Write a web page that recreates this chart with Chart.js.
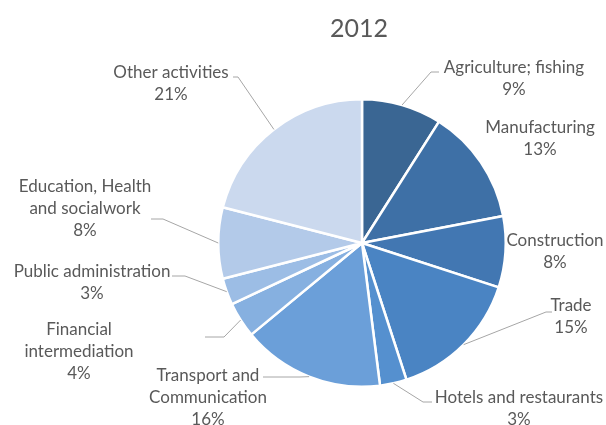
<!DOCTYPE html>
<html>
<head>
<meta charset="utf-8">
<script src="https://cdn.jsdelivr.net/npm/chart.js@4"></script>
<style>
    html, body { margin: 0; padding: 0; background: #ffffff; }
    #wrap { width: 606px; height: 425px; }
</style>
</head>
<body>
<div id="wrap"><canvas id="pieChart" width="606" height="425"></canvas></div>
<script>
// Chart data
const chartTitle = '2012';
const sectors = [
    'Agriculture; fishing', 'Manufacturing', 'Construction', 'Trade',
    'Hotels and restaurants', 'Transport and Communication', 'Financial intermediation',
    'Public administration', 'Education, Health and socialwork', 'Other activities'
];
const shares = [9, 13, 8, 15, 3, 16, 4, 3, 8, 21];
const sliceColors = [
    '#3a6693', '#3e70a6', '#4277b2', '#4a84c3', '#5590cf',
    '#6b9fd9', '#86b0e0', '#9cbde5', '#b3cae9', '#cbd9ee'
];

// Label text lines as shown in the picture
const labelLines = [
    ['Agriculture; fishing'], ['Manufacturing'], ['Construction'], ['Trade'],
    ['Hotels and restaurants'], ['Transport and', 'Communication'], ['Financial', 'intermediation'],
    ['Public administration'], ['Education, Health', 'and socialwork'], ['Other activities']
];

// Label layout: text centre x, first line centre y, leader elbow and end (null = no leader)
const labelLayout = [
    { x: 514, y: 68,  elbow: [431, 72],  end: [439, 72] },
    { x: 540, y: 128, elbow: null, end: null },
    { x: 555, y: 241, elbow: null, end: null },
    { x: 571, y: 306, elbow: [546, 312], end: [552, 312] },
    { x: 519, y: 398, elbow: [423, 402], end: [432, 402] },
    { x: 208, y: 376, elbow: [300, 377], end: [263, 377] },
    { x: 79,  y: 330, elbow: [224, 337], end: [205, 337] },
    { x: 92,  y: 272, elbow: [185, 276], end: [172, 276] },
    { x: 85,  y: 187, elbow: [163, 219], end: [151, 219] },
    { x: 171, y: 73,  elbow: [238, 77],  end: [233, 77] }
];

const textColor = '#595959';
const leaderColor = '#a6a6a6';
const labelFont = '17px Lato, "Liberation Sans", sans-serif';

// Draws the title, outside labels and leader lines
const outsideLabels = {
    id: 'outsideLabels',
    afterDatasetsDraw(chart) {
        const ctx = chart.ctx;
        const meta = chart.getDatasetMeta(0);
        const total = shares.reduce((a, b) => a + b, 0);

        ctx.save();
        ctx.fillStyle = textColor;
        ctx.textAlign = 'center';
        ctx.textBaseline = 'middle';
        ctx.font = '25px Lato, "Liberation Sans", sans-serif';
        ctx.fillText(chartTitle, 359, 29);

        meta.data.forEach((arc, i) => {
            const layout = labelLayout[i];
            const p = arc.getProps(['x', 'y', 'startAngle', 'endAngle', 'outerRadius'], true);

            if (layout.elbow) {
                const mid = (p.startAngle + p.endAngle) / 2;
                const sx = p.x + Math.cos(mid) * p.outerRadius;
                const sy = p.y + Math.sin(mid) * p.outerRadius;
                ctx.strokeStyle = leaderColor;
                ctx.lineWidth = 1;
                ctx.beginPath();
                ctx.moveTo(sx, sy);
                ctx.lineTo(layout.elbow[0], layout.elbow[1]);
                ctx.lineTo(layout.end[0], layout.end[1]);
                ctx.stroke();
            }

            const pct = Math.round(shares[i] / total * 100) + '%';
            const lines = labelLines[i].concat([pct]);
            ctx.font = labelFont;
            ctx.fillStyle = textColor;
            lines.forEach((line, j) => {
                ctx.fillText(line, layout.x, layout.y + j * 22);
            });
        });
        ctx.restore();
    }
};

const ctx = document.getElementById('pieChart').getContext('2d');
new Chart(ctx, {
    type: 'pie',
    data: {
        labels: sectors,
        datasets: [{
            data: shares,
            backgroundColor: sliceColors,
            borderColor: '#ffffff',
            borderWidth: 2.5
        }]
    },
    options: {
        responsive: false,
        animation: false,
        layout: {
            padding: { top: 98, bottom: 37, left: 217, right: 99 }
        },
        plugins: {
            legend: { display: false },
            title: { display: false },
            tooltip: { enabled: false }
        }
    },
    plugins: [outsideLabels]
});
</script>
</body>
</html>
